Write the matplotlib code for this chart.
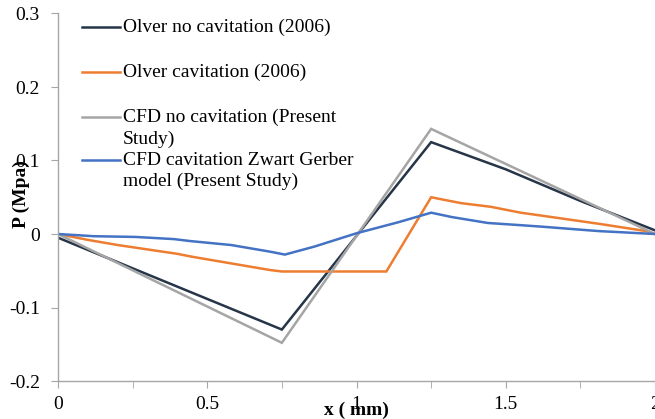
import numpy as np
import matplotlib.pyplot as plt

plt.rcParams['font.family'] = ['Liberation Serif', 'DejaVu Serif']

# ---------------------------------------------------------------- data
olver_nc_x = [0, 0.75, 1.25, 1.5, 1.75, 2.0]
olver_nc_y = [-0.005, -0.13, 0.125, 0.088, 0.045, 0.005]

olver_c_x = [0, 0.1, 0.2, 0.3, 0.4, 0.45, 0.58, 0.71, 0.75, 1.1, 1.25, 1.35, 1.45, 1.55, 1.62, 1.81, 1.97, 2.0]
olver_c_y = [0, -0.008, -0.015, -0.021, -0.027, -0.031, -0.040, -0.049, -0.051, -0.051,
             0.050, 0.042, 0.037, 0.029, 0.025, 0.014, 0.004, 0.0]

cfd_nc_x = [0, 0.75, 1.25, 2.0]
cfd_nc_y = [0, -0.148, 0.143, 0.0]

cfd_c_x = [0, 0.12, 0.26, 0.39, 0.44, 0.58, 0.71, 0.76, 0.86, 1.0, 1.14, 1.25, 1.32, 1.44, 1.55, 1.62, 1.81, 2.0]
cfd_c_y = [0, -0.003, -0.004, -0.007, -0.0095, -0.015, -0.024, -0.028, -0.017, 0.001, 0.016,
           0.029, 0.023, 0.015, 0.012, 0.010, 0.004, 0.0]

labels = ["Olver no cavitation (2006)",
          "Olver cavitation (2006)",
          "CFD no cavitation (Present\nStudy)",
          "CFD cavitation Zwart Gerber\nmodel (Present Study)"]
colors = ["#263548", "#ED7D31", "#A5A5A5", "#4472C4"]

x_ticks = [0, 0.5, 1, 1.5, 2]
x_tick_labels = ["0", "0.5", "1", "1.5", "2"]
y_ticks = [-0.2, -0.1, 0, 0.1, 0.2, 0.3]
y_tick_labels = ["-0.2", "-0.1", "0", "0.1", "0.2", "0.3"]

# ---------------------------------------------------------------- figure
fig = plt.figure(figsize=(6.55, 4.19), dpi=100)
ax = fig.add_axes([58 / 655, 1 - 381 / 419, 1 - 58 / 655, (381 - 13.5) / 419])

series = [(olver_nc_x, olver_nc_y), (olver_c_x, olver_c_y), (cfd_nc_x, cfd_nc_y), (cfd_c_x, cfd_c_y)]
for (xs, ys), c in zip(series, colors):
    ax.plot(xs, ys, color=c, lw=1.8, solid_joinstyle='miter')

ax.set_xlim(0, 2)
ax.set_ylim(-0.2, 0.3)
ax.set_xticks(x_ticks)
ax.set_xticklabels(x_tick_labels)
ax.set_xticks([0.25, 0.75, 1.25, 1.75], minor=True)
ax.set_yticks(y_ticks)
ax.set_yticklabels(y_tick_labels)

for s in ['top', 'right']:
    ax.spines[s].set_visible(False)
for s in ['left', 'bottom']:
    ax.spines[s].set_color('#A6A6A6')
    ax.spines[s].set_linewidth(1.0)
ax.tick_params(axis='both', which='both', direction='out', length=5, color='#A6A6A6',
               labelsize=14, labelcolor='black')
ax.tick_params(axis='x', which='both', pad=6)
ax.tick_params(axis='y', pad=8)

ax.set_xlabel("x ( mm)", fontsize=14, fontweight='bold')
ax.set_ylabel("P (Mpa)", fontsize=14, fontweight='bold')
ax.xaxis.label.set_va('center')
ax.xaxis.set_label_coords(0.5, -0.08)
ax.yaxis.set_label_coords(-0.047, 0.51)

# legend drawn by hand so the handle sits at the first text line (like Excel)
ax_h = 381 - 13.5
legend_rows = [27, 72, 117, 160]
for lab, c, py in zip(labels, colors, legend_rows):
    yy = (381 - py) / ax_h
    ax.plot([(82 - 58) / 597, (120 - 58) / 597], [yy, yy], color=c, lw=1.8,
            transform=ax.transAxes, clip_on=False)
    ax.text((123 - 58) / 597, yy + 8 / ax_h, lab, transform=ax.transAxes, fontsize=14,
            va='top', ha='left', linespacing=1.3)

fig.savefig("out.png", dpi=100)
